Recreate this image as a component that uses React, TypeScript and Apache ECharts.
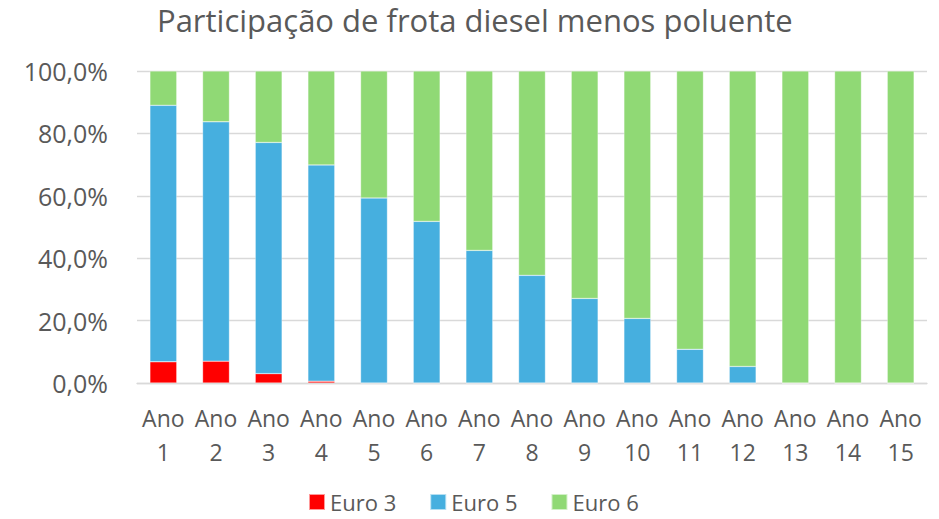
import React, { useEffect, useRef } from "react";
import * as echarts from "echarts";

const categories = ["Ano 1", "Ano 2", "Ano 3", "Ano 4", "Ano 5", "Ano 6", "Ano 7", "Ano 8", "Ano 9", "Ano 10", "Ano 11", "Ano 12", "Ano 13", "Ano 14", "Ano 15"];
const euro3 = [6.8, 7.0, 3.0, 0.6, 0, 0, 0, 0, 0, 0, 0, 0, 0, 0, 0];
const euro5 = [82.2, 76.7, 74.1, 69.3, 59.3, 51.8, 42.5, 34.5, 27.1, 20.7, 10.8, 5.3, 0, 0, 0];
const euro6 = euro3.map((v, i) => +(100 - v - euro5[i]).toFixed(1));
const seriesNames = ["Euro 3", "Euro 5", "Euro 6"];
const colors = ["#FF0000", "#46AFDF", "#90D975"];

const FONT = "Open Sans";
const TEXT = "#595959";

export default function App() {
  const ref = useRef<HTMLDivElement>(null);
  useEffect(() => {
    document.body.style.margin = "0";
    if (!ref.current) return;
    const chart = echarts.init(ref.current, undefined, { renderer: "svg" });
    const data = [euro3, euro5, euro6];
    chart.setOption({
      animation: false,
      color: colors,
      textStyle: { fontFamily: FONT },
      title: {
        text: "Participação de frota diesel menos poluente",
        left: 157,
        top: 4,
        padding: 0,
        textStyle: { fontFamily: FONT, fontSize: 31, fontWeight: "normal", color: TEXT },
      },
      legend: {
        top: 491,
        left: 308,
        padding: 0,
        itemWidth: 16,
        itemHeight: 16,
        itemGap: 33,
        icon: "rect",
        textStyle: { fontFamily: FONT, fontSize: 22, lineHeight: 22, color: TEXT },
        data: seriesNames,
      },
      grid: { left: 137, right: 12, top: 71, bottom: 136 },
      xAxis: {
        type: "category",
        data: categories,
        axisTick: { show: false },
        axisLine: { lineStyle: { color: "#D9D9D9", width: 1.3 } },
        axisLabel: {
          interval: 0,
          margin: 18,
          fontFamily: FONT,
          fontSize: 23,
          lineHeight: 34,
          color: TEXT,
          formatter: (v: string) => v.replace(" ", "\n"),
        },
      },
      yAxis: {
        type: "value",
        min: 0,
        max: 100,
        interval: 20,
        axisLine: { show: false },
        axisTick: { show: false },
        splitLine: { lineStyle: { color: "#D9D9D9", width: 1.3 } },
        axisLabel: {
          margin: 29,
          fontFamily: FONT,
          fontSize: 25,
          color: TEXT,
          formatter: (v: number) => v.toFixed(1).replace(".", ",") + "%",
        },
      },
      series: seriesNames.map((name, i) => ({
        name,
        type: "bar",
        stack: "total",
        barWidth: "51%",
        data: data[i],
        itemStyle: { color: colors[i], borderColor: "rgba(255,255,255,0.6)", borderWidth: 0.5 },
      })),
    });
    return () => chart.dispose();
  }, []);
  return <div ref={ref} style={{ width: 939, height: 519 }} />;
}
